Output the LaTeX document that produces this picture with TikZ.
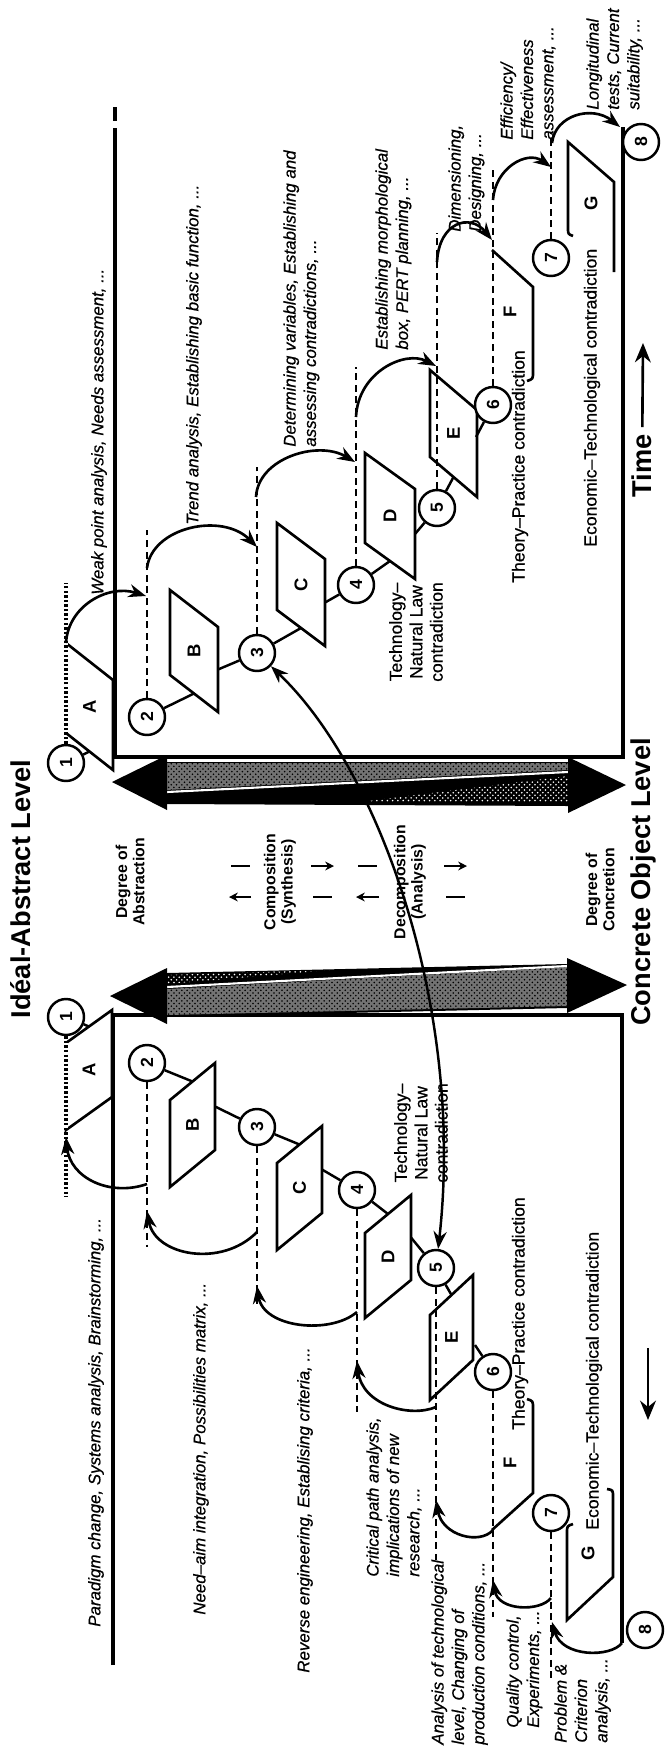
\documentclass[tikz,border=0pt]{standalone}
\usepackage{fontspec}
\setmainfont{Liberation Sans}
\newfontfamily\scanfont[FakeBold=0.6]{Liberation Sans}
\usetikzlibrary{arrows.meta,patterns}

% one slab of the staircase:
% #1 top X, #2 foot X, #3/#4 Y span of the top edge, #5 slant, #6 name, #7 letter
\newcommand{\slab}[7]{%
  \draw[edge] (#1,#3) -- (#1,#4) -- (#2,#4+#5) -- (#2,#3+#5) -- cycle;
  \node[letter] (#6) at ({(#1+#2)/2},{(#3+#4+#5)/2}) {#7};
  \coordinate (#6-lo) at ({(#1+#2)/2},{#3+#5/2});
  \coordinate (#6-hi) at ({(#1+#2)/2},{#4+#5/2});
  \coordinate (#6-ft) at (#2,{(#3+#4)/2+#5});
}

\begin{document}
\begin{tikzpicture}[x=0.02cm, y=-0.02cm,
    frame/.style={line width=1.9pt},
    edge/.style={line width=1.5pt, line join=miter},
    link/.style={line width=1.4pt},
    level/.style={line width=1.6pt, dash pattern=on 4pt off 2.6pt},
    beads/.style={line width=1.9pt, dash pattern=on 1.4pt off 1.2pt},
    leap/.style={line width=1.5pt, -{Stealth[length=10pt, width=7.5pt]}},
    twoway/.style={line width=1.3pt, -{Stealth[length=5pt, width=5pt]}},
    num/.style={circle, draw, line width=1.4pt, fill=white, minimum size=0.72cm,
      inner sep=0pt, font=\fontsize{10}{12}\selectfont\bfseries, rotate=90},
    letter/.style={rotate=90, font=\fontsize{10.5}{12}\selectfont\bfseries, inner sep=0pt},
    method/.style={rotate=90, inner sep=0pt, align=left,
      font=\scanfont\fontsize{9.6}{11.6}\selectfont\itshape},
    clash/.style={rotate=90, inner sep=0pt, align=center,
      font=\scanfont\fontsize{10}{11.6}\selectfont},
    degree/.style={rotate=90, inner sep=0pt, align=center,
      font=\fontsize{9}{9.8}\selectfont\bfseries},
    heading/.style={rotate=90, inner sep=0pt, font=\fontsize{15.5}{18}\selectfont\bfseries},
  ]

  \useasboundingbox (0,0) rectangle (667,1752);

  % frames of both staircases
  \draw[frame] (115,107) -- (115,121);
  \draw[frame] (115,128) -- (115,757) -- (623,757) -- (623,127);
  \draw[frame] (113,1665) -- (113,1015) -- (622,1015) -- (622,1643);

  % level bands (abstract end left, concrete end right)
  \fill (167,762) -- (568,762) -- (568,806) -- (167,804) -- cycle;
  \fill[black!55] (167,763) -- (568,763) -- (568,770) -- (167,790) -- cycle;
  \fill[pattern=crosshatch dots, pattern color=black] (167,763) -- (568,763) -- (568,770) -- (167,790) -- cycle;
  \fill[pattern=crosshatch dots, pattern color=white] (360,802) -- (568,802) -- (568,776) -- cycle;
  \draw[white, line width=1.2pt] (167,792) -- (568,772);
  \fill (167,755) -- (112,782) -- (167,810) -- cycle;
  \fill (568,757) -- (626,785) -- (568,813) -- cycle;

  \fill (167,973) -- (567,964) -- (567,1008) -- (167,1017) -- cycle;
  \fill[black!55] (167,989) -- (567,967) -- (567,1006) -- (167,1015) -- cycle;
  \fill[pattern=crosshatch dots, pattern color=black] (167,989) -- (567,967) -- (567,1006) -- (167,1015) -- cycle;
  \fill[pattern=crosshatch dots, pattern color=white] (167,975) -- (330,970) -- (167,984) -- cycle;
  \draw[white, line width=1.2pt] (167,987) -- (567,966);
  \fill (167,968) -- (110,996) -- (167,1024) -- cycle;
  \fill (567,958) -- (627,985) -- (567,1013) -- cycle;

  % headings
  \node[heading] (ideal) at (21,889) {Idéal-Abstract Level};
  \node[heading] (concrete) at (643,882) {Concrete Object Level};

  % middle column
  \node[degree] (abstr) at (130,882) {Degree of\\Abstraction};
  \node[degree] (synth) at (280,882) {Composition\\(Synthesis)};
  \node[degree] (analy) at (410,882) {Decomposition\\(Analysis)};
  \node[degree] (concr) at (600,890) {Degree of\\Concretion};

  % two-way arrows split round the middle labels
  \coordinate (syn-up-a) at (251,897); \coordinate (syn-up-b) at (229,897);
  \coordinate (syn-dn-a) at (311,866); \coordinate (syn-dn-b) at (334,866);
  \coordinate (ana-up-a) at (379,897); \coordinate (ana-up-b) at (356,897);
  \coordinate (ana-dn-a) at (444,866); \coordinate (ana-dn-b) at (467,866);
  \draw[twoway] (syn-up-a) -- (syn-up-b);
  \draw[twoway] (syn-dn-a) -- (syn-dn-b);
  \draw[twoway] (ana-up-a) -- (ana-up-b);
  \draw[twoway] (ana-dn-a) -- (ana-dn-b);
  \draw[line width=1.3pt] (231,866) -- (250,866) (313,897) -- (332,897)
    (358,866) -- (377,866) (446,897) -- (465,897);

  % ---------------- right staircase (synthesis) ----------------
  \slab{66}{113}{643}{733}{37}{AR}{A}
  \slab{170}{218}{590}{675}{37}{BR}{B}
  \slab{277}{325}{523}{610}{36}{CR}{C}
  \slab{365}{415}{453}{543}{36}{DR}{D}
  \slab{430}{477}{370}{457}{40}{ER}{E}
  \draw[edge] (492,250) -- (533,287) -- (533,372) .. controls (533,379) .. (527,381);
  \node[letter] (FR) at (510,312) {F};
  \draw[edge] (573,236) .. controls (568,234) .. (568,228) -- (568,142) -- (614,182) -- (614,272);
  \node[letter] (GR) at (591,203) {G};

  \node[num] (c1R) at (66,763) {1};
  \node[num] (c2R) at (147,717) {2};
  \node[num] (c3R) at (257,653) {3};
  \node[num] (c4R) at (356,585) {4};
  \node[num] (c5R) at (437,508) {5};
  \node[num] (c6R) at (493,405) {6};
  \node[num] (c7R) at (551,258) {7};
  \node[num] (c8R) at (641,142) {8};

  \coordinate (ER-c6) at (476,437);
  \draw[link] (c1R) -- (AR-hi);
  \draw[link] (c2R) -- (BR-hi);
  \draw[link] (BR-ft) -- (c3R);
  \draw[link] (c3R) -- (CR-hi);
  \draw[link] (CR-ft) -- (c4R);
  \draw[link] (c4R) -- (DR-hi);
  \draw[link] (DR-ft) -- (c5R);
  \draw[link] (c5R) -- (ER-hi);
  \draw[link] (ER-c6) -- (c6R);

  % level lines
  \draw[white, line width=2pt] (66,643) -- (66,733);
  \draw[beads] (c1R) -- ++(0,-180);
  \draw[level] (c2R) -- ++(0,-187);
  \draw[level] (c3R) -- ++(0,-186);
  \draw[level] (c4R) -- ++(0,-218);
  \draw[level] (c5R) -- ++(0,-275);
  \draw[level] (c6R) -- ++(0,-238);
  \draw[level] (c7R) -- ++(0,-125);

  % leaps down to the next level
  \coordinate (r1s) at (66,643);  \coordinate (r1e) at (146,596);
  \coordinate (r2s) at (147,568); \coordinate (r2e) at (257,547);
  \coordinate (r3s) at (256,497); \coordinate (r3e) at (355,462);
  \coordinate (r4s) at (356,417); \coordinate (r4e) at (436,366);
  \coordinate (r5s) at (437,262); \coordinate (r5e) at (492,240);
  \coordinate (r6s) at (493,200); \coordinate (r6e) at (551,167);
  \coordinate (r7s) at (552,143); \coordinate (r7e) at (620,127);
  \draw[leap] (r1s) .. controls (68,606) and (108,584) .. (r1e);
  \draw[leap] (r2s) .. controls (152,527) and (222,512) .. (r2e);
  \draw[leap] (r3s) .. controls (258,458) and (318,440) .. (r3e);
  \draw[leap] (r4s) .. controls (358,372) and (405,350) .. (r4e);
  \draw[leap] (r5s) .. controls (439,222) and (470,213) .. (r5e);
  \draw[leap] (r6s) .. controls (495,168) and (527,150) .. (r6e);
  \draw[leap] (r7s) .. controls (555,115) and (592,105) .. (r7e);

  % methods
  \node[method, anchor=west] (m1R) at (99,595) {Weak point analysis, Needs assessment, ...};
  \node[method, anchor=west] (m2R) at (194,525) {Trend analysis, Establishing basic function, ...};
  \node[method, anchor=north west] (m3R) at (283,447) {Determining variables, Establishing and\\assessing contradictions, ...};
  \node[method, anchor=north west] (m4R) at (375,350) {Establishing morphological\\box, PERT planning, ...};
  \node[method, anchor=north west] (m5R) at (448,232) {Dimensioning,\\Designing, ...};
  \node[method, anchor=north west] (m6R) at (500,140) {Efficiency/\\Effectiveness\\assessment, ...};
  \node[method, anchor=north west] (m7R) at (586,110) {Longitudinal\\tests, Current\\suitability, ...};

  % contradictions
  \node[clash] (tnR) at (416,632) {Technology–\\Natural Law\\contradiction};
  \node[clash, anchor=west] (tpR) at (520,583) {Theory–Practice contradiction};
  \node[clash, anchor=west] (etR) at (592,547) {Economic–Technological contradiction};

  % time
  \node[heading] (time) at (642,466) {Time};
  \coordinate (timetip) at (643,343);
  \draw[line width=1.5pt, shorten <=4pt, -{Stealth[length=11pt, width=9pt]}] (time) -- (timetip);

  % ---------------- left staircase (analysis) ----------------
  \slab{66}{112}{1043}{1130}{-33}{AL}{A}
  \slab{170}{215}{1100}{1187}{-37}{BL}{B}
  \slab{277}{322}{1163}{1250}{-37}{CL}{C}
  \slab{365}{411}{1233}{1318}{-38}{DL}{D}
  \slab{430}{473}{1315}{1400}{-40}{EL}{E}
  \draw[edge] (492,1530) -- (533,1493) -- (533,1408) .. controls (533,1401) .. (527,1399);
  \node[letter] (FL) at (510,1463) {F};
  \draw[edge] (573,1524) .. controls (567,1526) .. (567,1533) -- (567,1620) -- (613,1577) -- (613,1497) .. controls (613,1490) .. (607,1489);
  \node[letter] (GL) at (588,1553) {G};

  \node[num] (c1L) at (66,1017) {1};
  \node[num] (c2L) at (147,1063) {2};
  \node[num] (c3L) at (257,1127) {3};
  \node[num] (c4L) at (357,1190) {4};
  \node[num] (c5L) at (436,1268) {5};
  \node[num] (c6L) at (493,1372) {6};
  \node[num] (c7L) at (551,1513) {7};
  \node[num] (c8L) at (645,1630) {8};

  \coordinate (EL-c6) at (475,1345);
  \draw[link] (c1L) -- (AL-lo);
  \draw[link] (c2L) -- (BL-lo);
  \draw[link] (BL-ft) -- (c3L);
  \draw[link] (c3L) -- (CL-lo);
  \draw[link] (CL-ft) -- (c4L);
  \draw[link] (c4L) -- (DL-lo);
  \draw[link] (DL-ft) -- (c5L);
  \draw[link] (c5L) -- (EL-lo);
  \draw[link] (EL-c6) -- (c6L);

  % level lines
  \draw[white, line width=2pt] (66,1043) -- (66,1130);
  \draw[beads] (c1L) -- ++(0,180);
  \draw[level] (c2L) -- ++(0,184);
  \draw[level] (c3L) -- ++(0,180);
  \draw[level] (c4L) -- ++(0,222);
  \draw[level] (c5L) -- ++(0,292);
  \draw[level] (c6L) -- ++(0,245);
  \draw[level] (c7L) -- ++(0,167);

  % leaps up to the previous level
  \coordinate (l1s) at (147,1184); \coordinate (l1e) at (66,1137);
  \coordinate (l2s) at (257,1232); \coordinate (l2e) at (147,1211);
  \coordinate (l3s) at (357,1312); \coordinate (l3e) at (257,1286);
  \coordinate (l4s) at (436,1407); \coordinate (l4e) at (357,1361);
  \coordinate (l5s) at (493,1530); \coordinate (l5e) at (436,1500);
  \coordinate (l6s) at (551,1598); \coordinate (l6e) at (493,1580);
  \coordinate (l7s) at (622,1643); \coordinate (l7e) at (552,1622);
  \draw[leap] (l1s) .. controls (110,1197) and (70,1178) .. (l1e);
  \draw[leap] (l2s) .. controls (222,1268) and (155,1256) .. (l2e);
  \draw[leap] (l3s) .. controls (330,1335) and (263,1328) .. (l3e);
  \draw[leap] (l4s) .. controls (410,1418) and (362,1405) .. (l4e);
  \draw[leap] (l5s) .. controls (480,1545) and (442,1536) .. (l5e);
  \draw[leap] (l6s) .. controls (540,1612) and (498,1611) .. (l6e);
  \draw[leap] (l7s) .. controls (610,1658) and (562,1657) .. (l7e);

  % methods
  \node[method, anchor=west] (m1L) at (96,1627) {Paradigm change, Systems analysis, Brainstorming, ...};
  \node[method, anchor=west] (m2L) at (201,1615) {Need–aim integration, Possibilities matrix, ...};
  \node[method, anchor=west] (m3L) at (305,1673) {Reverse engineering, Establising criteria, ...};
  \node[method, anchor=north west] (m4L) at (366,1577) {Critical path analysis,\\implications of new\\research, ...};
  \node[method, anchor=north west] (m5L) at (431,1745) {Analysis of technological\\level, Changing of\\production conditions, ...};
  \node[method, anchor=north west] (m6L) at (506,1728) {Quality control,\\Experiments, ...};
  \node[method, anchor=north west] (m7L) at (554,1743) {Problem \&\\Criterion\\analysis, ...};

  % contradictions
  \node[clash] (tnL) at (421,1133) {Technology–\\Natural Law\\contradiction};
  \node[clash, anchor=west] (tpL) at (520,1430) {Theory–Practice contradiction};
  \node[clash, anchor=west] (etL) at (594,1530) {Economic–Technological contradiction};

  % time, backwards
  \coordinate (backtail) at (648,1348); \coordinate (backtip) at (648,1420);
  \draw[line width=1.5pt, -{Stealth[length=11pt, width=9pt]}] (backtail) -- (backtip);

  % analysis feeds back into synthesis
  \draw[line width=1.4pt, {Stealth[length=10pt, width=7.5pt]}-{Stealth[length=10pt, width=7.5pt]}]
    (c3R) .. controls (380,770) and (465,1010) .. (c5L);

\end{tikzpicture}
\end{document}
